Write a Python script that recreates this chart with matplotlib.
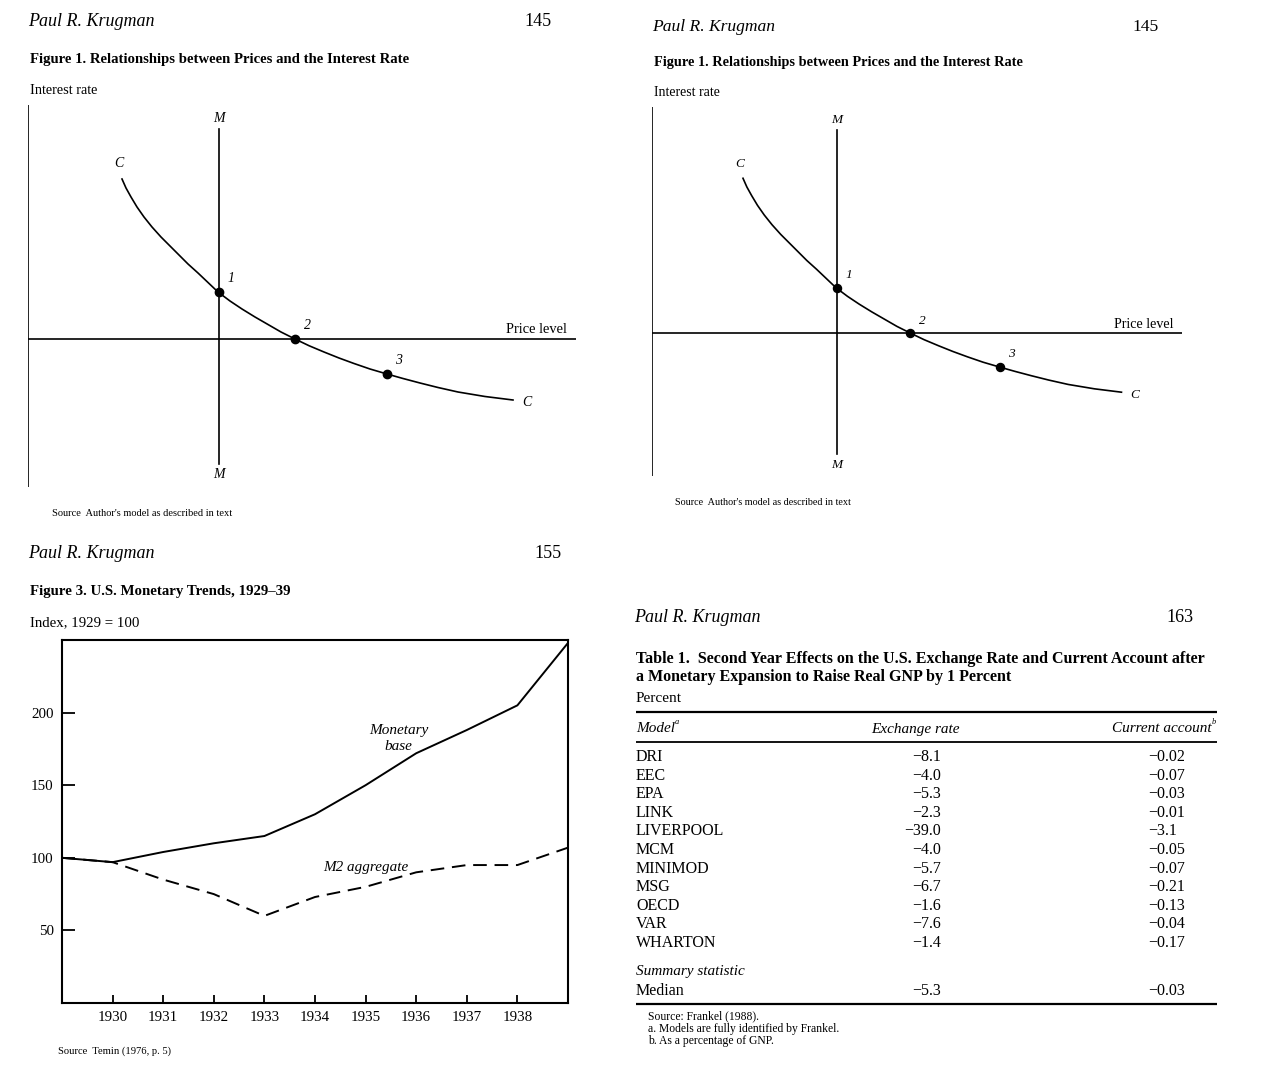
import matplotlib
matplotlib.use("Agg")
import matplotlib.pyplot as plt

# ---------------- data ----------------
# Figure 1 schematic (diagram units; y relative to price-level line)
c_curve_x = [94, 98, 103, 109, 116, 124, 133, 142, 151, 160, 170, 180, 190, 202, 214, 227,
             240, 253, 267, 281, 296, 311, 326, 342, 359, 375, 392, 410, 430, 457, 485]
c_curve_y = [160, 151, 142, 132, 122, 112, 102, 93, 84, 75, 66, 56.5, 47, 38, 30, 22,
             14.5, 7, 0, -6.7, -13, -19, -24.5, -30, -35, -39.5, -44, -48.5, -53, -57.5, -61]
mm_x = 191
mm_y = [-125, 210]
eq_points_x = [191, 267, 359]
eq_points_y = [47, 0, -35]
eq_labels = ["1", "2", "3"]

# Figure 3 data
years = [1929, 1930, 1931, 1932, 1933, 1934, 1935, 1936, 1937, 1938, 1939]
monetary_base = [100, 97, 104, 110, 115, 130, 150, 172, 188, 205, 248]
m2_aggregate = [100, 97, 85, 75, 60, 73, 80, 90, 95, 95, 107]
year_ticks = [1930, 1931, 1932, 1933, 1934, 1935, 1936, 1937, 1938]
index_ticks = [50, 100, 150, 200]

# Table 1 data
models = ["DRI", "EEC", "EPA", "LINK", "LIVERPOOL", "MCM", "MINIMOD", "MSG",
          "OECD", "VAR", "WHARTON"]
exchange_rate = [-8.1, -4.0, -5.3, -2.3, -39.0, -4.0, -5.7, -6.7, -1.6, -7.6, -1.4]
current_account = [-0.02, -0.07, -0.03, -0.01, -3.1, -0.05, -0.07, -0.21, -0.13, -0.04, -0.17]
median_exchange = -5.3
median_current = -0.03

# ---------------- figure ----------------
W, H = 1266, 1083
SERIF = "Liberation Serif"
plt.rcParams["font.family"] = [SERIF, "DejaVu Serif"]
fig = plt.figure(figsize=(W / 100, H / 100), dpi=100, facecolor="white")

bg = fig.add_axes([0, 0, 1, 1])
bg.set_xlim(0, W)
bg.set_ylim(H, 0)
bg.axis("off")


def txt(x, y, s, size=10, **kw):
    kw.setdefault("va", "center")
    return bg.text(x, y, s, fontsize=size, color="black", **kw)


def rule(x0, x1, y, lw=1.0):
    bg.plot([x0, x1], [y, y], color="black", lw=lw, solid_capstyle="butt")


def px_axes(left, top, width, height):
    return fig.add_axes([left / W, 1 - (top + height) / H, width / W, height / H])


def fmt(v, dec):
    return "\u2212" + f"{abs(v):.{dec}f}" if v < 0 else f"{v:.{dec}f}"


# ---------------- Figure 1 panels ----------------
def figure1(x0, y0, k):
    txt(x0 - 2, y0 + 22, "Paul R. Krugman", size=13 * k, style="italic")
    txt(x0 + 508 * k, y0 + 22, "145", size=13 * k, ha="center")
    txt(x0, y0 + 59 * k, "Figure 1. Relationships between Prices and the Interest Rate",
        size=10.6 * k, weight="bold")
    txt(x0, y0 + 90 * k, "Interest rate", size=10.3 * k)

    ax = px_axes(x0 - 2, y0 + 105 * k, 548 * k, 382 * k)
    ax.set_xlim(0, 548)
    ax.set_ylim(-148, 234)
    ax.axis("off")
    ax.set_facecolor("none")
    lw = 1.2
    ax.plot([0, 0], [-148, 234], color="black", lw=lw)
    ax.plot([0, 548], [0, 0], color="black", lw=lw)
    ax.plot([mm_x, mm_x], mm_y, color="black", lw=lw)
    ax.plot(c_curve_x, c_curve_y, color="black", lw=lw, solid_joinstyle="round")
    ax.plot(eq_points_x, eq_points_y, "o", color="black", ms=6 * k, zorder=5)
    fs = 10 * k
    ax.text(mm_x, mm_y[1] + 10, "M", style="italic", fontsize=fs, ha="center", va="center")
    ax.text(mm_x, mm_y[0] - 11, "M", style="italic", fontsize=fs, ha="center", va="center")
    ax.text(c_curve_x[0] - 3, c_curve_y[0] + 15, "C", style="italic", fontsize=fs,
            ha="center", va="center")
    ax.text(c_curve_x[-1] + 14, c_curve_y[-1] - 3, "C", style="italic", fontsize=fs,
            ha="center", va="center")
    for xp, yp, lab in zip(eq_points_x, eq_points_y, eq_labels):
        ax.text(xp + 12, yp + 13, lab, style="italic", fontsize=fs, ha="center", va="center")
    ax.text(539, 9, "Price level", fontsize=10.4 * k, ha="right", va="center")
    txt(x0 + 22 * k, y0 + 514 * k, "Source  Author's model as described in text", size=7.5 * k)


figure1(30, 0, 1.0)
figure1(654, 5, 0.968)

# ---------------- Figure 3 ----------------
txt(28, 554, "Paul R. Krugman", size=13, style="italic")
txt(548, 554, "155", size=13, ha="center")
txt(30, 591, "Figure 3. U.S. Monetary Trends, 1929\u201339", size=10.7, weight="bold")
txt(30, 623, "Index, 1929 = 100", size=10.7)

ax3 = px_axes(62, 640, 506, 363)
ax3.set_xlim(1929, 1939)
ax3.set_ylim(0, 250)
ax3.plot(years, monetary_base, color="black", lw=1.4)
ax3.plot(years, m2_aggregate, color="black", lw=1.4, ls=(0, (7, 4)))
ax3.set_xticks(year_ticks)
ax3.set_yticks(index_ticks)
ax3.tick_params(direction="in", width=1.3, labelsize=10.8)
ax3.tick_params(axis="x", length=6, pad=6)
ax3.tick_params(axis="y", length=9, pad=6)
for lab in ax3.get_xticklabels() + ax3.get_yticklabels():
    lab.set_family(SERIF)
for sp in ax3.spines.values():
    sp.set_linewidth(1.5)
ax3.text(1935.65, 182.5, "Monetary\nbase", style="italic", fontsize=11, ha="center",
         va="center", linespacing=1.3)
ax3.text(1935.0, 93, "M2 aggregate", style="italic", fontsize=10.9, ha="center", va="center")
txt(58, 1051, "Source  Temin (1976, p. 5)", size=7.6)

# ---------------- Table 1 ----------------
TL, TR = 636, 1217
txt(634, 618, "Paul R. Krugman", size=13, style="italic")
txt(1180, 618, "163", size=13, ha="center")
txt(TL, 659, "Table 1.  Second Year Effects on the U.S. Exchange Rate and Current Account after",
    size=11.5, weight="bold")
txt(TL, 677, "a Monetary Expansion to Raise Real GNP by 1 Percent", size=11.5, weight="bold")
txt(TL, 699, "Percent", size=11)
rule(TL, TR, 712, lw=1.6)
hdr = txt(TL, 729, "Model", size=11, style="italic")
bg.annotate("a", xy=(1, 0.75), xycoords=hdr, fontsize=6, style="italic", va="bottom",
            ha="left")
txt(915, 729, "Exchange rate", size=11, style="italic", ha="center")
hdr2 = txt(TR - 5, 729, "Current account", size=11, style="italic", ha="right")
bg.annotate("b", xy=(1, 0.75), xycoords=hdr2, fontsize=6, style="italic", va="bottom",
            ha="left")
rule(TL, TR, 742, lw=1.3)

EX_R = 941
CA_DEC = 1165
row0, step = 757, 18.6
body = 11.5


def ca_row(y, v):
    dec = 1 if abs(v) >= 1 else 2
    s = fmt(v, dec)
    ip, fp = s.split(".")
    txt(CA_DEC, y, ip, size=body, ha="right")
    txt(CA_DEC, y, "." + fp, size=body, ha="left")


for i, (m, e, c) in enumerate(zip(models, exchange_rate, current_account)):
    y = row0 + i * step
    txt(TL, y, m, size=body)
    txt(EX_R, y, fmt(e, 1), size=body, ha="right")
    ca_row(y, c)

txt(TL, 972, "Summary statistic", size=11, style="italic")
txt(TL, 991, "Median", size=body)
txt(EX_R, 991, fmt(median_exchange, 1), size=body, ha="right")
ca_row(991, median_current)
rule(TL, TR, 1004, lw=1.6)
txt(648, 1016, "Source: Frankel (1988).", size=8.4)
txt(648, 1029, "a. Models are fully identified by Frankel.", size=8.4)
txt(648, 1041, "b. As a percentage of GNP.", size=8.4)

fig.savefig("out.png", dpi=100, facecolor="white")
